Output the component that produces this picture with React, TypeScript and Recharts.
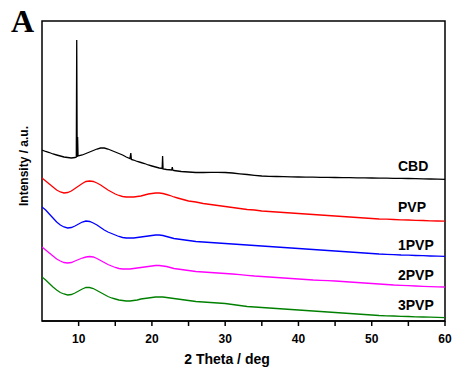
import React from 'react';
import { LineChart, Line, XAxis, YAxis, ReferenceArea } from 'recharts';

const COLOR_CBD = '#000000';
const COLOR_PVP = '#ff0000';
const COLOR_1PVP = '#0000ff';
const COLOR_2PVP = '#ff00ff';
const COLOR_3PVP = '#008000';
const FONT = '"Liberation Sans", Arial, sans-serif';

// shared 2θ grid for the four PVP patterns
const TWO_THETA = [
  5, 5.5, 6, 6.5, 7, 7.5, 8, 8.5, 9, 9.5, 10, 10.5, 11, 11.5, 12, 12.5, 13, 13.5, 14, 14.5,
  15, 15.5, 16, 16.5, 17, 17.5, 18, 18.5, 19, 19.5, 20, 20.5, 21, 21.5, 22, 22.5, 23, 23.5, 24, 24.5,
  25, 26, 27, 28, 29, 30, 31, 32, 33, 34, 35, 36, 37, 38, 39, 40, 41, 42, 43, 44,
  45, 46, 47, 48, 49, 50, 51, 52, 53, 54, 55, 56, 57, 58, 59, 60,
];

const PVP = [
  143, 140, 137, 134, 131, 129, 128, 128.5, 130, 132.5, 135, 137.5, 139.5, 140, 139.5, 138, 136, 133.5, 131, 129,
  127, 125.5, 124.5, 124, 124, 124, 124.5, 125, 126, 127, 127.5, 128, 128, 127.5, 126.5, 125.5, 124, 123, 122, 121,
  120, 119, 117.5, 116.5, 115.5, 114.5, 113.5, 112.5, 111.5, 111, 110, 109.5, 109, 108.5, 108, 107.5, 107, 106.5, 106, 105.5,
  105, 104.5, 104, 103.5, 103, 102.5, 102, 101.8, 101.5, 101.2, 101, 100.7, 100.5, 100.2, 100, 99.8,
];

const PVP1 = [
  114, 111, 107, 103, 99, 96, 94, 93, 93.5, 95, 97, 99, 100, 99.5, 98, 96, 93.5, 91, 89, 87.5,
  86, 84.5, 83.5, 83, 83, 83, 83.5, 84, 84.5, 85, 85.5, 86, 86, 85.5, 84.5, 83.5, 82.5, 82, 81.5, 81,
  80.5, 79.5, 79, 78.5, 78, 77.5, 77, 76.5, 76, 75.5, 75, 74.5, 74, 73.5, 73, 72.5, 72, 71.5, 71, 70.5,
  70, 69.5, 69, 68.5, 68, 67.5, 67, 66.7, 66.4, 66, 65.8, 65.5, 65.3, 65, 64.8, 64.6,
];

const PVP2 = [
  74, 71, 68, 65, 62, 60, 58.5, 58, 58.5, 60, 61.5, 63, 64, 64.5, 64, 62.5, 60.5, 58.5, 56.5, 55,
  53.5, 52.5, 52, 52, 52, 52.5, 53, 53.5, 54, 54.5, 55, 55.5, 55.5, 55, 54.5, 53.5, 52.5, 52, 51.5, 51,
  50.5, 49.5, 49, 48.5, 48, 47.5, 47, 46.3, 45.7, 45, 44.5, 44, 43.5, 43, 42.5, 42, 41.5, 41, 40.7, 40.3,
  40, 39.5, 39, 38.5, 38, 37.5, 37, 36.5, 36, 35.7, 35.3, 35, 34.7, 34.4, 34.2, 34,
];

const PVP3 = [
  44, 41, 37.5, 34, 31, 28.5, 27, 26, 26.5, 28, 30, 32, 33.5, 33.5, 32.5, 30.5, 28.5, 26.5, 24.5, 23,
  22, 21, 20.5, 20, 20, 20.5, 21, 22, 22.5, 23, 23.5, 24, 24, 24, 23.5, 23, 22.5, 22, 21.5, 21,
  20.5, 19.5, 19, 18.5, 18, 17.5, 16.5, 15.5, 14.5, 14, 13.5, 13, 12.5, 12, 11.5, 11, 10.5, 10, 9.5, 9,
  8.5, 8, 7.5, 7, 6.5, 6, 5.5, 5.2, 5, 4.7, 4.5, 4.2, 4, 3.8, 3.6, 3.4,
];

// CBD has its own grid because of the sharp crystalline reflections
const CBD_THETA = [
  5, 5.5, 6, 6.5, 7, 7.5, 8, 8.5, 9, 9.5, 9.68, 9.74, 9.8, 9.86, 9.92, 10.5, 11, 11.5, 12, 12.5,
  13, 13.5, 14, 14.5, 15, 15.5, 16, 16.5, 17, 17.12, 17.2, 17.5, 18, 18.5, 19, 19.5, 20, 20.5, 21, 21.4,
  21.46, 21.52, 22, 22.7, 22.78, 22.86, 23, 24, 25, 26, 27, 28, 29, 30, 31, 32, 33, 34, 35, 36,
  37, 38, 39, 40, 41, 42, 43, 44, 45, 46, 47, 48, 49, 50, 51, 52, 53, 54, 55, 56,
  57, 58, 59, 60,
];

const CBD = [
  171, 169.5, 168.5, 167, 166, 165, 164, 163.5, 163, 163.5, 164, 281, 164, 184, 165, 166, 167.5, 169, 170.5, 172,
  173, 173, 172, 170.5, 169, 167.5, 166, 164, 162.5, 168, 161.5, 161, 159.5, 158.5, 157.5, 156, 155, 154, 153, 152.5,
  165, 152, 151.5, 151, 154, 151, 150.5, 149.5, 149, 148.5, 148.5, 148.7, 148.7, 148.5, 148, 147.2, 146.5, 145.7, 145, 144.7,
  144.5, 144.3, 144.1, 144, 143.9, 143.8, 143.7, 143.6, 143.5, 143.4, 143.3, 143.2, 143.1, 143, 142.9, 142.8, 142.7, 142.6, 142.5, 142.3,
  142.2, 142, 141.9, 141.7,
];

const X_TICKS = [10, 15, 20, 25, 30, 35, 40, 45, 50, 55, 60];
const X_DOMAIN = [5, 60];
const Y_DOMAIN = [0, 300];

const toRows = (xs: number[], ys: number[]) => xs.map((x, i) => ({ x, y: ys[i] }));

const SERIES = [
  { name: 'CBD', color: COLOR_CBD, data: toRows(CBD_THETA, CBD), labelY: 170.7 },
  { name: 'PVP', color: COLOR_PVP, data: toRows(TWO_THETA, PVP), labelY: 211.5 },
  { name: '1PVP', color: COLOR_1PVP, data: toRows(TWO_THETA, PVP1), labelY: 250 },
  { name: '2PVP', color: COLOR_2PVP, data: toRows(TWO_THETA, PVP2), labelY: 280 },
  { name: '3PVP', color: COLOR_3PVP, data: toRows(TWO_THETA, PVP3), labelY: 310 },
];

export default function App() {
  return (
    <div style={{ position: 'absolute', left: 0, top: 0, width: 454, height: 378, background: '#fff' }}>
      <LineChart width={454} height={378} margin={{ top: 21, right: 9, bottom: 27, left: 42 }}>
        <XAxis
          type="number"
          dataKey="x"
          domain={X_DOMAIN}
          ticks={X_TICKS}
          allowDataOverflow
          height={30}
          tickSize={5}
          tickMargin={8}
          tickFormatter={(v: number) => (v % 10 === 0 ? String(v) : '')}
          stroke="#000"
          strokeWidth={1.5}
          tick={{ fill: '#000', fontSize: 12, fontWeight: 'bold', fontFamily: FONT }}
        />
        <YAxis type="number" domain={Y_DOMAIN} width={0} hide allowDataOverflow />
        {/* plot frame */}
        <ReferenceArea
          x1={X_DOMAIN[0]}
          x2={X_DOMAIN[1]}
          y1={Y_DOMAIN[0]}
          y2={Y_DOMAIN[1]}
          fill="none"
          fillOpacity={0}
          stroke="#000"
          strokeWidth={1.5}
          ifOverflow="visible"
        />
        {SERIES.map(s => (
          <Line
            key={s.name}
            data={s.data}
            dataKey="y"
            type="linear"
            stroke={s.color}
            strokeWidth={1.3}
            dot={false}
            isAnimationActive={false}
          />
        ))}
      </LineChart>

      {/* text overlay: panel letter, axis titles and curve names */}
      <svg
        width={454}
        height={378}
        style={{ position: 'absolute', left: 0, top: 0, pointerEvents: 'none' }}
      >
        <text x={11} y={32} fontFamily='"Liberation Serif", "Times New Roman", serif' fontWeight="bold" fontSize={32}>
          A
        </text>
        <text
          x={28}
          y={166}
          transform="rotate(-90, 28, 166)"
          textAnchor="middle"
          fontFamily={FONT}
          fontWeight="bold"
          fontSize={12}
        >
          Intensity / a.u.
        </text>
        <text x={227} y={364} textAnchor="middle" fontFamily={FONT} fontWeight="bold" fontSize={14}>
          2 Theta / deg
        </text>
        {SERIES.map(s => (
          <text key={s.name} x={398} y={s.labelY} fontFamily={FONT} fontWeight="bold" fontSize={14}>
            {s.name}
          </text>
        ))}
      </svg>
    </div>
  );
}
